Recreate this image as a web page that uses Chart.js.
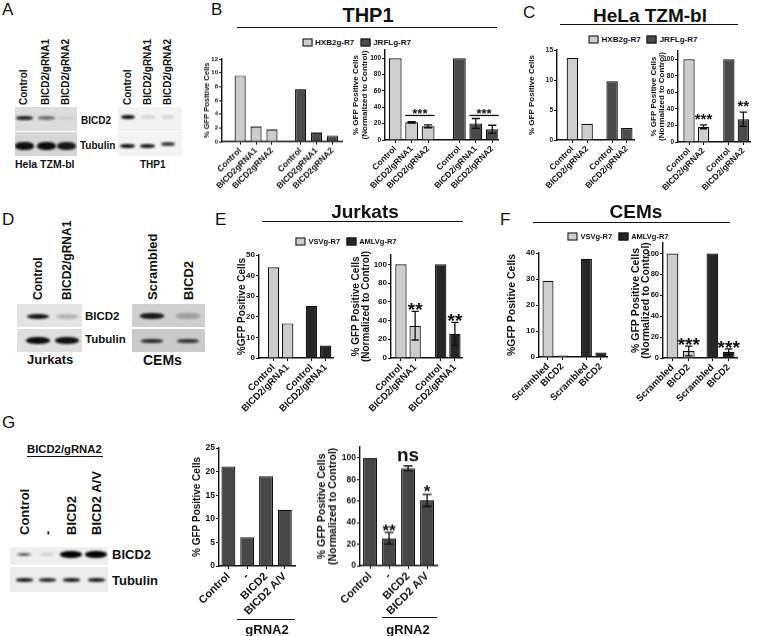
<!DOCTYPE html>
<html>
<head>
<meta charset="utf-8">
<script src="https://cdn.jsdelivr.net/npm/chart.js@4.4.1/dist/chart.umd.min.js"></script>
<style>
  html, body { margin: 0; padding: 0; background: #fff; }
  #fig { position: relative; width: 757px; height: 636px; overflow: hidden; background: #fff;
         font-family: 'Liberation Sans', Arial, Helvetica, sans-serif; color: #111; }
  .t { position: absolute; white-space: nowrap; line-height: 1; }
  .hl { position: absolute; height: 0; border-top: 1.5px solid #111; }
  .strip { position: absolute; overflow: hidden; }
  .band { position: absolute; border-radius: 45%; filter: blur(1.1px); }
  canvas { position: absolute; }
  .lg { position: absolute; display: flex; align-items: center; transform: translate(-50%, -50%); white-space: nowrap; font-weight: bold; }
  .lg i { display: inline-block; width: 8px; height: 6px; border: 1px solid #111; margin-right: 3px; }
  .lg span { margin-right: 6px; }
</style>
</head>
<body>
<div id="fig"></div>
<script>
// ---- blot band intensities (0 = nothing, 1 = saturated) ----
const helaLanes = ['Control', 'BICD2/gRNA1', 'BICD2/gRNA2']
const helaBicd2 = [0.85, 0.5, 0.12]
const helaTub = [0.95, 0.95, 0.9]
const thp1Bicd2 = [0.92, 0.05, 0.05]
const thp1Tub = [0.92, 0.88, 0.72]
const jurkatLanes = ['Control', 'BICD2/gRNA1']
const jurkatBicd2 = [0.9, 0.2]
const jurkatTub = [0.95, 0.93]
const cemLanes = ['Scrambled', 'BICD2']
const cemBicd2 = [0.9, 0.3]
const cemTub = [0.82, 0.78]
const rescueLanes = ['Control', '-', 'BICD2', 'BICD2 A/V']
const rescueBicd2 = [0.6, 0.08, 1, 1]
const rescueTub = [0.85, 0.8, 0.85, 0.85]

// ---- bar chart data ----
const thp1Series = ['HXB2g-R7', 'JRFLg-R7']
const thp1Labels = ['Control', 'BICD2gRNA1', 'BICD2gRNA2', 'Control', 'BICD2gRNA1', 'BICD2gRNA2']
const thp1NormLabels = ['Control', 'BICD2/gRNA1', 'BICD2/gRNA2', 'Control', 'BICD2/gRNA1', 'BICD2/gRNA2']
const thp1Gfp = [9.6, 2.2, 1.8, 7.6, 1.35, 0.85]
const thp1Norm = [100, 21.6, 16.8, 100, 20.3, 13]
const thp1NormErr = [0, 0.8, 1.8, 0, 6, 5]

const helaLabels = ['Control', 'BICD2/gRNA2', 'Control', 'BICD2/gRNA2']
const helaGfp = [13.7, 2.7, 9.8, 2.0]
const helaNorm = [100, 18.3, 100, 27.5]
const helaNormErr = [0, 2.3, 0, 8.5]

const jurkatSeries = ['VSVg-R7', 'AMLVg-R7']
const jurkatLabels = ['Control', 'BICD2/gRNA1', 'Control', 'BICD2/gRNA1']
const jurkatGfp = [44, 16.8, 25.4, 6.1]
const jurkatNorm = [100, 34.5, 100, 25.8]
const jurkatNormErr = [0, 15.3, 0, 12.3]

const cemLabels = ['Scrambled', 'BICD2', 'Scrambled', 'BICD2']
const cemGfp = [29.3, 0.6, 37.8, 1.7]
const cemNorm = [100, 6.7, 100, 5.9]
const cemNormErr = [0, 4.6, 0, 2.8]

const rescueLabels = ['Control', '-', 'BICD2', 'BICD2 A/V']
const rescueGfp = [21.1, 6.1, 19.0, 11.9]
const rescueNorm = [100, 25.5, 90.3, 60.5]
const rescueNormErr = [0, 5.3, 2.2, 5.5]

const FONT = "'Liberation Sans', Arial, Helvetica, sans-serif"
const LIGHT = '#cdcdcd', DARK = '#4a4a4a', BLACKISH = '#262626', GREY = '#474747'
const fig = document.getElementById('fig')

Chart.defaults.font.family = FONT
Chart.defaults.font.weight = 'bold'
Chart.defaults.color = '#111'

// ---- html helpers ----
const txt = (x, yb, s, size, o = {}) => {
  const d = document.createElement('div')
  d.className = 't'
  d.textContent = s
  d.style.fontSize = size + 'px'
  d.style.fontWeight = o.weight || 'bold'
  d.style.left = x + 'px'
  d.style.top = (yb - 0.8465 * size) + 'px'
  if (o.center) d.style.transform = 'translateX(-50%)'
  fig.appendChild(d)
}
const vtxt = (cx, yb, s, size) => {
  const d = document.createElement('div')
  d.className = 't'
  d.textContent = s
  d.style.fontSize = size + 'px'
  d.style.fontWeight = 'bold'
  d.style.left = (cx - size / 2) + 'px'
  d.style.top = yb + 'px'
  d.style.transformOrigin = '0 0'
  d.style.transform = 'rotate(-90deg)'
  fig.appendChild(d)
}
const hline = (x1, x2, y, w = 1.5) => {
  const d = document.createElement('div')
  d.className = 'hl'
  d.style.left = x1 + 'px'
  d.style.width = (x2 - x1) + 'px'
  d.style.top = (y - w / 2) + 'px'
  d.style.borderTopWidth = w + 'px'
  fig.appendChild(d)
}
const legend = (cx, cy, names, fills, size) => {
  const d = document.createElement('div')
  d.className = 'lg'
  d.style.left = cx + 'px'
  d.style.top = cy + 'px'
  d.style.fontSize = size + 'px'
  names.forEach((n, i) => {
    const b = document.createElement('i')
    b.style.background = fills[i]
    const s = document.createElement('span')
    s.textContent = n
    d.appendChild(b)
    d.appendChild(s)
  })
  fig.appendChild(d)
}

// strip of a western blot with one band per lane
const strip = (x, y, w, h, bg, lanes, vals, band) => {
  const s = document.createElement('div')
  s.className = 'strip'
  Object.assign(s.style, { left: x + 'px', top: y + 'px', width: w + 'px', height: h + 'px', background: bg })
  vals.forEach((v, i) => {
    const b = document.createElement('div')
    b.className = 'band'
    const g = Math.round(225 * (1 - v))
    const bw = band.w * (band.wScale ? band.wScale[i] : 1)
    const bh = band.h * (band.hScale ? band.hScale[i] : 1)
    const cy = band.y + (band.dy ? band.dy[i] : 0)
    Object.assign(b.style, {
      left: (lanes[i] - x - bw / 2) + 'px', top: (cy - y - bh / 2) + 'px',
      width: bw + 'px', height: bh + 'px', background: `rgb(${g},${g},${g})`
    })
    s.appendChild(b)
  })
  fig.appendChild(s)
}

// ---- bar chart helper ----
const barChart = (c) => {
  const [x0, x1, yTopPx, yZeroPx] = c.box
  const padTop = 14, padRight = 10, xH = 64
  const yW = c.yW
  const pos = []
  let p = 0
  c.groups.forEach(n => {
    for (let k = 0; k < n; k++) pos.push(p + k)
    p += n - 1 + (c.gap || 1)
  })
  const cv = document.createElement('canvas')
  const L = x0 - yW, T = yTopPx - padTop
  const W = (x1 - x0) + yW + padRight, H = (yZeroPx - yTopPx) + padTop + xH
  cv.width = W; cv.height = H
  Object.assign(cv.style, { left: L + 'px', top: T + 'px', width: W + 'px', height: H + 'px' })
  fig.appendChild(cv)
  const lh = c.lh || 1.1
  const titlePad = c.titleX - L - c.titleSize * lh / 2
  const errors = c.errors || []
  const sig = c.sig || []

  return new Chart(cv, {
    type: 'bar',
    data: {
      datasets: [{
        data: c.values.map((v, i) => ({ x: pos[i], y: v })),
        backgroundColor: c.colors,
        borderColor: '#111',
        borderWidth: 1.2,
        barPercentage: c.barPct,
        categoryPercentage: 1,
      }]
    },
    options: {
      responsive: false,
      animation: false,
      devicePixelRatio: 1,
      layout: { padding: { top: padTop, right: padRight, left: 0, bottom: 0 } },
      plugins: { legend: { display: false }, tooltip: { enabled: false } },
      scales: {
        x: {
          type: 'linear',
          min: c.xr[0],
          max: c.xr[1],
          offset: false,
          afterBuildTicks: s => { s.ticks = pos.map(v => ({ value: v })) },
          afterFit: s => { s.height = xH },
          ticks: {
            autoSkip: false, minRotation: 45, maxRotation: 45, padding: 1,
            font: { size: c.labelSize, weight: 'bold' },
            callback: (v, i) => c.labels[i],
          },
          grid: { display: true, drawOnChartArea: false, offset: false, tickLength: 3, color: '#111', tickColor: '#111', tickWidth: 1.1 },
          border: { display: true, color: '#111', width: 1.4 },
        },
        y: {
          min: 0,
          max: c.ymax,
          afterFit: s => { s.width = yW },
          ticks: {
            stepSize: c.ystep, padding: 1,
            font: { size: c.tickSize, weight: 'bold' },
            callback: v => (v % c.every === 0 ? v : ''),
          },
          grid: { display: true, drawOnChartArea: false, tickLength: 3, color: '#111', tickColor: '#111', tickWidth: 1.1 },
          border: { display: true, color: '#111', width: 1.4 },
          title: {
            display: true, text: c.title,
            font: { size: c.titleSize, weight: 'bold', lineHeight: lh },
            padding: { top: titlePad, bottom: 0 },
          },
        }
      }
    },
    plugins: [{
      id: 'marks',
      afterDatasetsDraw(chart) {
        const ctx = chart.ctx, y = chart.scales.y
        const bars = chart.getDatasetMeta(0).data
        ctx.save()
        ctx.strokeStyle = '#111'
        ctx.fillStyle = '#111'
        ctx.lineWidth = 1.3
        errors.forEach((e, i) => {
          if (!e) return
          const b = bars[i], hw = b.width * 0.32
          const t = y.getPixelForValue(c.values[i] + e), u = y.getPixelForValue(c.values[i] - e)
          ctx.beginPath()
          ctx.moveTo(b.x, t); ctx.lineTo(b.x, u)
          ctx.moveTo(b.x - hw, t); ctx.lineTo(b.x + hw, t)
          ctx.moveTo(b.x - hw, u); ctx.lineTo(b.x + hw, u)
          ctx.stroke()
        })
        ctx.textAlign = 'center'
        ctx.textBaseline = 'alphabetic'
        sig.forEach(s => {
          ctx.font = `bold ${s.size}px ${FONT}`
          if (s.from !== undefined) {
            const a = bars[s.from], b = bars[s.to]
            const ly = y.getPixelForValue(s.at)
            ctx.beginPath()
            ctx.moveTo(a.x - a.width / 2, ly); ctx.lineTo(b.x + b.width / 2, ly)
            ctx.stroke()
            ctx.fillText(s.text, (a.x + b.x) / 2, ly + s.dy)
          } else {
            const b = bars[s.bar]
            const top = y.getPixelForValue(c.values[s.bar] + (errors[s.bar] || 0))
            ctx.fillText(s.text, b.x, top + s.dy)
          }
        })
        ctx.restore()
      }
    }]
  })
}

// ===== panel letters =====
txt(2, 15, 'A', 17, { weight: 'normal' })
txt(211, 15, 'B', 17, { weight: 'normal' })
txt(523, 18, 'C', 17, { weight: 'normal' })
txt(2, 225, 'D', 17, { weight: 'normal' })
txt(215, 225, 'E', 17, { weight: 'normal' })
txt(500, 225, 'F', 17, { weight: 'normal' })
txt(2, 428, 'G', 17, { weight: 'normal' })

// ===== A: blots =====
const helaX = [24, 46, 66]
helaLanes.forEach((s, i) => vtxt(helaX[i], 105, s, 10))
strip(15, 107, 62, 24, '#dcdcdc', helaX, helaBicd2, { y: 118, w: 17, h: 4, hScale: [1, 0.8, 0.7] })
strip(15, 132, 62, 24, '#d6d6d6', helaX, helaTub, { y: 146, w: 19, h: 8 })
txt(81, 124.6, 'BICD2', 10)
txt(80, 149.6, 'Tubulin', 10)
txt(15, 168, 'Hela TZM-bl', 10.5)
const thpX = [127.5, 147.5, 168]
helaLanes.forEach((s, i) => vtxt(thpX[i], 105, s, 10))
strip(118, 107, 64, 24, '#f2f2f2', thpX, thp1Bicd2, { y: 117, w: 14, h: 4.5 })
strip(118, 132, 64, 24, '#f4f4f4', thpX, thp1Tub, { y: 146, w: 15, h: 4, dy: [0, 0, -2.3], wScale: [1, 1, 0.9] })
txt(140, 168.5, 'THP1', 10)

// ===== B: THP1 =====
txt(368, 22, 'THP1', 20, { center: true })
hline(237, 497, 27.5)
legend(359.5, 42, thp1Series, [LIGHT, DARK], 8)
barChart({
  labels: thp1Labels, values: thp1Gfp, colors: [LIGHT, LIGHT, LIGHT, DARK, DARK, DARK],
  groups: [3, 3], gap: 1.8, xr: [-1.14, 6.4], ymax: 12, ystep: 2, every: 2,
  box: [222, 342, 59, 141.5], yW: 32, title: '% GFP Positive Cells', titleX: 207, titleSize: 7.5,
  tickSize: 6, labelSize: 8.5, barPct: 0.7,
})
barChart({
  labels: thp1NormLabels, values: thp1Norm, errors: thp1NormErr, colors: [LIGHT, LIGHT, LIGHT, DARK, DARK, DARK],
  groups: [3, 3], gap: 1.9, xr: [-0.62, 6.25], ymax: 110, ystep: 10, every: 20,
  box: [385, 498, 49.8, 140], yW: 40, title: ['% GFP Positive Cells', '(Normalized to Control)'], titleX: 356, titleSize: 8,
  tickSize: 6.5, labelSize: 8.5, barPct: 0.78,
  sig: [{ from: 1, to: 2, at: 30, text: '***', size: 13, dy: 3 }, { from: 4, to: 5, at: 30, text: '***', size: 13, dy: 3 }],
})

// ===== C: HeLa TZM-bl =====
txt(650, 22, 'HeLa TZM-bl', 19, { center: true })
hline(560, 738, 25)
legend(646, 39, thp1Series, [LIGHT, DARK], 8)
barChart({
  labels: helaLabels, values: helaGfp, colors: [LIGHT, LIGHT, DARK, DARK],
  groups: [2, 2], gap: 1.7, xr: [-1.05, 4.19], ymax: 15, ystep: 5, every: 5,
  box: [557, 634, 50, 140], yW: 36, title: '% GFP Positive Cells', titleX: 531.5, titleSize: 8,
  tickSize: 6.5, labelSize: 8.5, barPct: 0.78,
})
barChart({
  labels: helaLabels, values: helaNorm, errors: helaNormErr, colors: [LIGHT, LIGHT, DARK, DARK],
  groups: [2, 2], gap: 1.75, xr: [-0.76, 4.21], ymax: 110, ystep: 10, every: 20,
  box: [678, 750, 50.7, 142], yW: 36, title: ['% GFP Positive Cells', '(Normalized to Control)'], titleX: 653.5, titleSize: 8, lh: 1.05,
  tickSize: 6.5, labelSize: 8.5, barPct: 0.78,
  sig: [{ bar: 1, text: '***', size: 15, dy: -1 }, { bar: 3, text: '**', size: 15, dy: -1 }],
})

// ===== D: blots =====
const jurX = [38, 67]
jurkatLanes.forEach((s, i) => vtxt(jurX[i], 300, s, 12))
strip(17, 304, 65, 23, '#e4e4e4', jurX, jurkatBicd2, { y: 316, w: 22, h: 5 })
strip(17, 329, 65, 23, '#dedede', jurX, jurkatTub, { y: 340, w: 24, h: 7 })
txt(85, 321, 'BICD2', 11.5)
txt(85, 344, 'Tubulin', 11.5)
txt(27, 364.5, 'Jurkats', 13)
const cemX = [152, 188]
cemLanes.forEach((s, i) => vtxt(cemX[i], 300, s, 13))
strip(132, 304, 73, 23, '#cfcfcf', cemX, cemBicd2, { y: 316, w: 24, h: 6 })
strip(132, 329, 73, 23, '#cacaca', cemX, cemTub, { y: 341, w: 22, h: 4 })
txt(143, 365, 'CEMs', 14)

// ===== E: Jurkats =====
txt(365, 218, 'Jurkats', 19, { center: true })
hline(262, 463, 222)
legend(349, 241, jurkatSeries, [LIGHT, BLACKISH], 7.5)
barChart({
  labels: jurkatLabels, values: jurkatGfp, colors: [LIGHT, LIGHT, BLACKISH, BLACKISH],
  groups: [2, 2], gap: 1.67, xr: [-1.02, 4.19], ymax: 50, ystep: 10, every: 10,
  box: [259, 333, 255, 358], yW: 30, title: '%GFP Positive Cells', titleX: 242.5, titleSize: 10,
  tickSize: 8, labelSize: 9.5, barPct: 0.8,
})
barChart({
  labels: jurkatLabels, values: jurkatNorm, errors: jurkatNormErr, colors: [LIGHT, LIGHT, BLACKISH, BLACKISH],
  groups: [2, 2], gap: 1.8, xr: [-0.7, 4.3], ymax: 110, ystep: 10, every: 20,
  box: [391, 462, 254.6, 358], yW: 44, title: ['% GFP Positive Cells', '(Normalized to Control)'], titleX: 356, titleSize: 10, lh: 1.05,
  tickSize: 8, labelSize: 9.5, barPct: 0.8,
  sig: [{ bar: 1, text: '**', size: 19, dy: 5 }, { bar: 3, text: '**', size: 19, dy: 5 }],
})

// ===== F: CEMs =====
txt(636, 218, 'CEMs', 19, { center: true })
hline(533, 730, 223)
legend(621, 236, jurkatSeries, [LIGHT, BLACKISH], 7.5)
barChart({
  labels: cemLabels, values: cemGfp, colors: [LIGHT, LIGHT, BLACKISH, BLACKISH],
  groups: [2, 2], gap: 1.65, xr: [-0.62, 4.07], ymax: 40, ystep: 10, every: 10,
  box: [539, 607, 253, 357], yW: 36, title: '%GFP Positive Cells', titleX: 512.5, titleSize: 10.5,
  tickSize: 8, labelSize: 9.5, barPct: 0.76,
})
barChart({
  labels: cemLabels, values: cemNorm, errors: cemNormErr, colors: [LIGHT, LIGHT, BLACKISH, BLACKISH],
  groups: [2, 2], gap: 1.45, xr: [-0.58, 3.96], ymax: 110, ystep: 10, every: 20,
  box: [663, 737, 242.5, 358], yW: 36, title: ['% GFP Positive Cells', '(Normalized to Control)'], titleX: 636, titleSize: 10.5, lh: 0.95,
  tickSize: 7.5, labelSize: 9.5, barPct: 0.72,
  sig: [{ bar: 1, text: '***', size: 19, dy: 5 }, { bar: 3, text: '***', size: 19, dy: 5 }],
})

// ===== G: rescue =====
txt(27, 454, 'BICD2/gRNA2', 11.3)
hline(27, 103, 457)
const resX = [24, 47, 71, 96]
rescueLanes.forEach((s, i) => vtxt(resX[i], 535, s, 13))
strip(10, 547, 98, 18, '#efefef', resX, rescueBicd2, { y: 554.5, w: 22, h: 7, wScale: [0.65, 0.6, 1, 1], hScale: [0.45, 0.4, 1, 1] })
strip(10, 567, 98, 25, '#ebebeb', resX, rescueTub, { y: 580, w: 17, h: 3.2 })
txt(112, 558.6, 'BICD2', 13)
txt(112, 584.6, 'Tubulin', 13)

barChart({
  labels: rescueLabels, values: rescueGfp, colors: [GREY, GREY, GREY, GREY],
  groups: [4], gap: 1, xr: [-0.5, 3.54], ymax: 25, ystep: 5, every: 5,
  box: [219, 295, 448, 566], yW: 32, title: '% GFP Positive Cells', titleX: 197.5, titleSize: 10,
  tickSize: 8.5, labelSize: 11, barPct: 0.74,
})
barChart({
  labels: rescueLabels, values: rescueNorm, errors: rescueNormErr, colors: [GREY, GREY, GREY, GREY],
  groups: [4], gap: 1, xr: [-0.53, 3.52], ymax: 110, ystep: 10, every: 20,
  box: [360, 437, 447.2, 566], yW: 46, title: ['% GFP Positive Cells', '(Normalized to Control)'], titleX: 322, titleSize: 10.5,
  tickSize: 8.5, labelSize: 11, barPct: 0.74,
  sig: [{ bar: 1, text: '**', size: 17, dy: 4 }, { bar: 2, text: 'ns', size: 19, dy: -5 }, { bar: 3, text: '*', size: 17, dy: 3 }],
})
hline(237, 295, 620)
txt(267, 633.7, 'gRNA2', 13, { center: true })
hline(382, 437, 618)
txt(408, 633.7, 'gRNA2', 13, { center: true })
</script>
</body>
</html>
